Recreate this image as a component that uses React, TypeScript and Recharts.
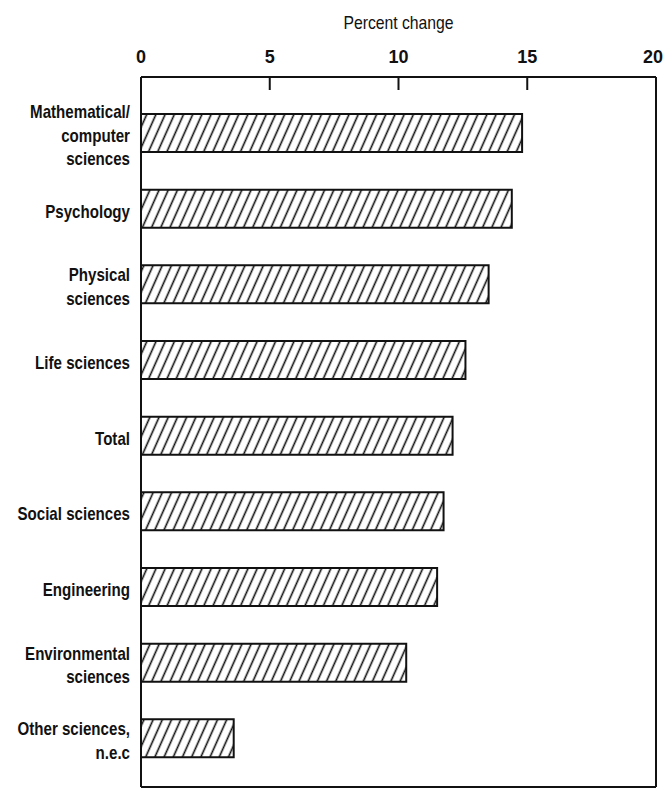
import { BarChart, Bar, XAxis, YAxis } from 'recharts';

const categories = [
  'Mathematical/\ncomputer\nsciences',
  'Psychology',
  'Physical\nsciences',
  'Life sciences',
  'Total',
  'Social sciences',
  'Engineering',
  'Environmental\nsciences',
  'Other sciences,\nn.e.c',
];
const percentChange = [14.8, 14.4, 13.5, 12.6, 12.1, 11.75, 11.5, 10.3, 3.6];
const xTicks = [0, 5, 10, 15, 20];
const innerTicks = [5, 10, 15];

const data = categories.map((name, i) => ({ name, value: percentChange[i] }));

const ink = '#111';
const font = '"Liberation Sans", Arial, sans-serif';
// the original uses a condensed face; squeeze Liberation Sans horizontally
const squeeze = 0.84;

function TopTick(props: any) {
  const { x, y, payload } = props;
  const v = payload.value;
  // keep the last label inside the page
  const tx = Math.min(x, 663 - 10);
  return (
    <g>
      <text x={tx} y={y} textAnchor="middle" fontFamily={font} fontSize={18} fontWeight="bold" fill={ink}>
        {v}
      </text>
      {innerTicks.includes(v) && <line x1={x} y1={y + 14} x2={x} y2={y + 27} stroke={ink} strokeWidth={2} />}
    </g>
  );
}

function BottomTick(props: any) {
  const { x, y } = props;
  return <line x1={x} y1={y} x2={x} y2={y - 12} stroke={ink} strokeWidth={2} />;
}

function CatTick(props: any) {
  const { x, y, payload } = props;
  const lines = String(payload.value).split('\n');
  const lh = 23.5;
  const first = 3 - ((lines.length - 1) * lh) / 2 + 6;
  return (
    <g transform={`translate(${x},${y}) scale(${squeeze},1)`}>
      <text x={0} y={first} textAnchor="end" fontFamily={font} fontSize={18} fontWeight="bold" fill={ink}>
        {lines.map((l, i) => (
          <tspan key={i} x={0} y={first + i * lh}>
            {l}
          </tspan>
        ))}
      </text>
    </g>
  );
}

function AxisTitle(props: any) {
  const { viewBox } = props;
  const cx = viewBox.x + viewBox.width / 2;
  return (
    <g transform={`translate(${cx},29) scale(0.9,1)`}>
      <text x={0} y={0} textAnchor="middle" fontFamily={font} fontSize={17.5} fill={ink}>
        Percent change
      </text>
    </g>
  );
}

export default function App() {
  return (
    <div style={{ position: 'absolute', left: 0, top: 0, background: '#fff' }}>
      <BarChart width={663} height={789} data={data} layout="vertical" margin={{ top: 0, right: 0, bottom: 0, left: 0 }} barSize={38}>
        <defs>
          <pattern id="hatch" patternUnits="userSpaceOnUse" width={8.4} height={10} patternTransform="rotate(24)">
            <rect x={0} y={0} width={8.4} height={10} fill="#fff" />
            <line x1={4.2} y1={0} x2={4.2} y2={10} stroke={ink} strokeWidth={1.6} />
          </pattern>
        </defs>
        <XAxis
          xAxisId="top"
          orientation="top"
          type="number"
          domain={[0, 20]}
          ticks={xTicks}
          interval={0}
          height={77}
          axisLine={{ stroke: ink, strokeWidth: 2 }}
          tickLine={false}
          tickSize={0}
          tickMargin={14}
          tick={<TopTick />}
          label={<AxisTitle />}
        />
        <XAxis
          xAxisId="bottom"
          orientation="bottom"
          type="number"
          domain={[0, 20]}
          ticks={innerTicks}
          interval={0}
          height={2}
          axisLine={{ stroke: ink, strokeWidth: 2 }}
          tickLine={false}
          tickSize={0}
          tickMargin={0}
          tick={<BottomTick />}
        />
        <YAxis
          yAxisId="left"
          type="category"
          dataKey="name"
          width={141}
          interval={0}
          axisLine={{ stroke: ink, strokeWidth: 2 }}
          tickLine={false}
          tickSize={0}
          tickMargin={11}
          tick={<CatTick />}
          padding={{ top: 18, bottom: 11 }}
        />
        <YAxis
          yAxisId="right"
          orientation="right"
          type="category"
          dataKey="name"
          width={7}
          axisLine={{ stroke: ink, strokeWidth: 2 }}
          tickLine={false}
          tick={false}
          padding={{ top: 18, bottom: 11 }}
        />
        <Bar
          xAxisId="top"
          yAxisId="left"
          dataKey="value"
          fill="url(#hatch)"
          stroke={ink}
          strokeWidth={2}
          isAnimationActive={false}
        />
      </BarChart>
    </div>
  );
}
